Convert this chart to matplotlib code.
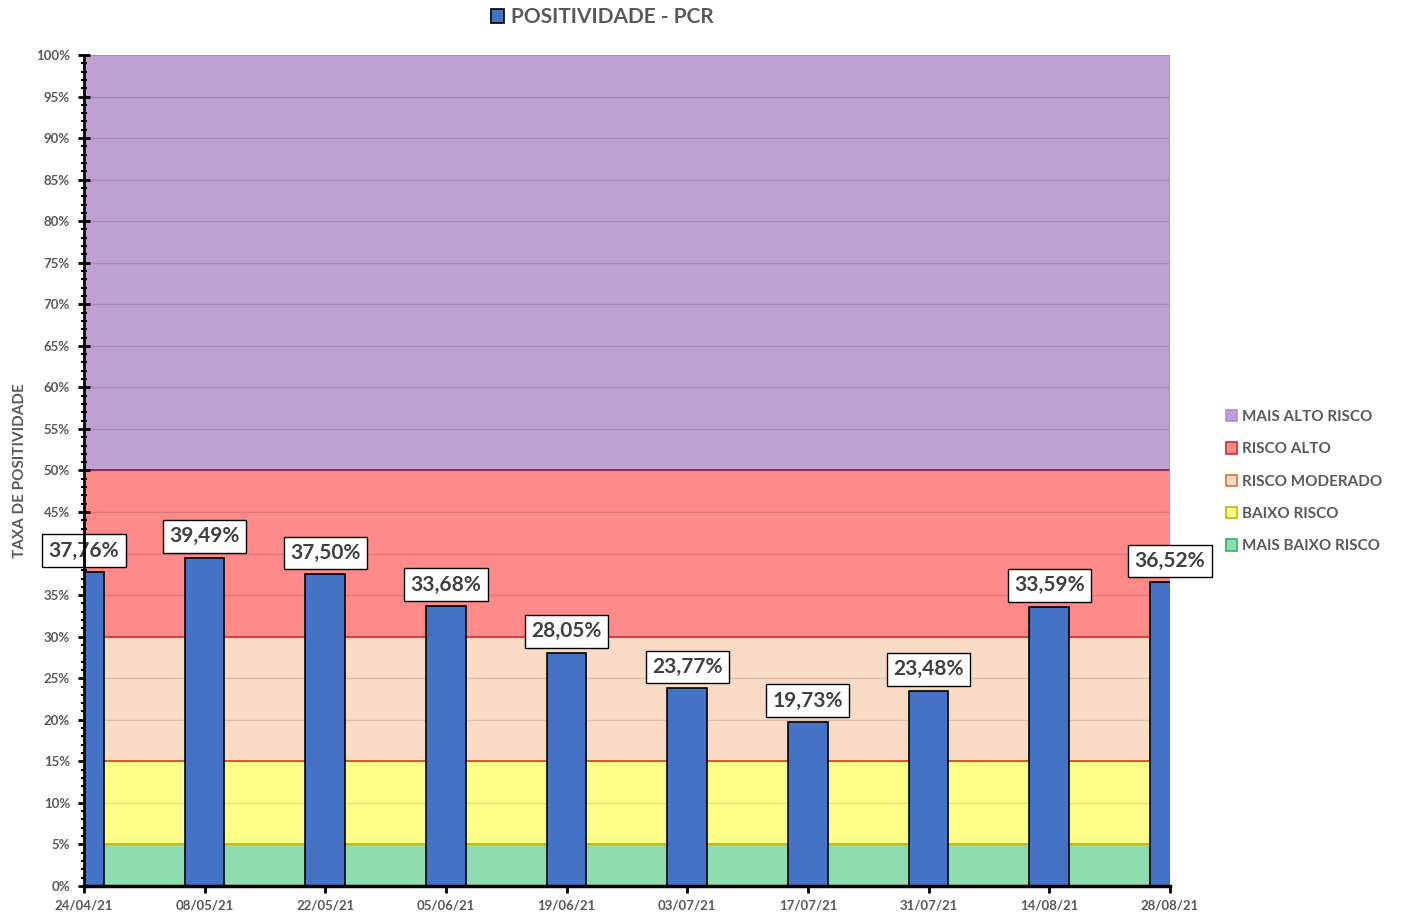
import numpy as np
import pandas as pd
import matplotlib
matplotlib.use("Agg")
import matplotlib.pyplot as plt
import matplotlib.dates as mdates
from matplotlib.patches import Patch
from matplotlib.ticker import MultipleLocator, FuncFormatter

plt.rcParams['font.family'] = ['Lato', 'DejaVu Sans']

# ============================================================
# Dados
# ============================================================
datas = ["24/04/21", "08/05/21", "22/05/21", "05/06/21", "19/06/21",
         "03/07/21", "17/07/21", "31/07/21", "14/08/21", "28/08/21"]
positividade = [37.76, 39.49, 37.50, 33.68, 28.05, 23.77, 19.73, 23.48, 33.59, 36.52]

faixa_nomes = ["MAIS BAIXO RISCO", "BAIXO RISCO", "RISCO MODERADO", "RISCO ALTO", "MAIS ALTO RISCO"]
faixa_inf = [0, 5, 15, 30, 50]
faixa_sup = [5, 15, 30, 50, 100]
faixa_cores = ["#8EDCB0", "#FFFF88", "#FADBC5", "#FF8A8A", "#BEA0D2"]
faixa_bordas = ["#2BB55A", "#C8B400", "#E07030", "#D42A2A", "#B48CCB"]
linha_topo = ["#C8B400", "#D2531A", "#D9383A", "#8B2252", "#BEA0D2"]

TXT = "#595959"

x = pd.to_datetime(datas, format="%d/%m/%y")
xn = mdates.date2num(x)

fig = plt.figure(figsize=(14.02, 9.13), dpi=100)
ax = fig.add_axes([0.0599, 0.0296, 0.7746, 0.9102])

# faixas de risco
for lo, hi, cor in zip(faixa_inf, faixa_sup, faixa_cores):
    ax.fill_between([xn[0], xn[-1]], lo, hi, color=cor, lw=0, zorder=0)

# grade
for v in range(5, 100, 5):
    ax.axhline(v, color="black", alpha=0.12, lw=1, zorder=1)
for v, cor in zip(faixa_sup[:-1], linha_topo[:-1]):
    ax.axhline(v, color=cor, lw=1.3, zorder=1.5)
ax.axhline(100, color="#AD8AC4", lw=1.5, zorder=1.5)
ax.axvline(xn[-1], color="#AD8AC4", lw=1.2, ymin=0.5, zorder=1.5)

# barras
ax.bar(xn, positividade, width=4.6, color="#4472C4", edgecolor="black", lw=1.2, zorder=3)

for xi, v in zip(xn, positividade):
    ax.annotate(f"{v:.2f}%".replace(".", ","), (xi, v), xytext=(0, 15.5),
                textcoords="offset points", ha="center", va="center",
                fontsize=15, fontweight="bold", color="#404040", zorder=5,
                bbox=dict(boxstyle="square,pad=0.3", fc="white", ec="black", lw=1),
                annotation_clip=False)

ax.set_xlim(xn[0], xn[-1])
ax.set_ylim(0, 100)
ax.set_xticks(xn)
ax.set_xticklabels(datas)
ax.yaxis.set_major_locator(MultipleLocator(5))
ax.yaxis.set_minor_locator(MultipleLocator(1))
ax.yaxis.set_major_formatter(FuncFormatter(lambda v, p: f"{v:.0f}%"))

ax.tick_params(axis="y", which="major", direction="inout", length=8, width=2, colors="black",
               labelcolor=TXT, labelsize=9.5, pad=6)
ax.tick_params(axis="y", which="minor", direction="inout", length=4, width=1.5, colors="black")
ax.tick_params(axis="x", direction="out", length=5, width=2, colors="black",
               labelcolor=TXT, labelsize=9.5, pad=5)
for lab in ax.get_xticklabels() + ax.get_yticklabels():
    lab.set_fontweight("bold")

for s in ["top", "right"]:
    ax.spines[s].set_visible(False)
ax.spines["left"].set_linewidth(2)
ax.spines["bottom"].set_linewidth(2.5)
ax.spines["left"].set_zorder(6)
ax.spines["bottom"].set_zorder(6)

fig.text(0.0143, 0.485, "TAXA DE POSITIVIDADE", rotation=90, ha="center", va="center",
         fontsize=11, fontweight="bold", color=TXT)

# legenda das faixas
handles = [Patch(facecolor=c, edgecolor=b, lw=1.2, label=n)
           for n, c, b in zip(faixa_nomes, faixa_cores, faixa_bordas)][::-1]
leg = fig.legend(handles=handles, loc="upper left", bbox_to_anchor=(0.8645, 0.566),
                 frameon=False, fontsize=11, handlelength=0.75, handleheight=0.75,
                 handletextpad=0.3, labelspacing=1.2)
for t in leg.get_texts():
    t.set_fontweight("bold")
    t.set_color(TXT)

# legenda do título
leg2 = fig.legend(handles=[Patch(facecolor="#4472C4", edgecolor="black", lw=1.2,
                                 label="POSITIVIDADE - PCR")],
                  loc="center", bbox_to_anchor=(0.4294, 0.981), frameon=False,
                  fontsize=15, handlelength=0.65, handleheight=0.65, handletextpad=0.3)
for t in leg2.get_texts():
    t.set_fontweight("bold")
    t.set_color(TXT)

fig.savefig("out.png", dpi=100)
